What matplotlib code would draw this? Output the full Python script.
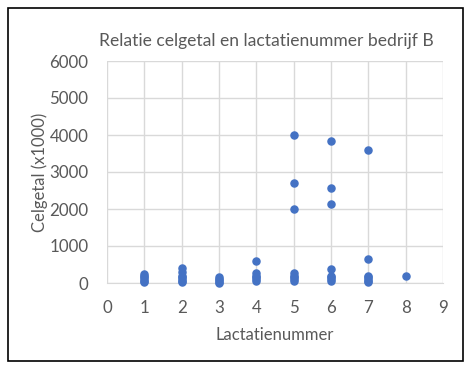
import matplotlib.pyplot as plt
from matplotlib.patches import Rectangle

# lactation number per cow and cell count (x1000)
lactatie = [1, 1, 1, 1, 1, 1,
            2, 2, 2, 2, 2, 2, 2,
            3, 3, 3, 3, 3,
            4, 4, 4, 4, 4, 4,
            5, 5, 5, 5, 5, 5, 5, 5,
            6, 6, 6, 6, 6, 6, 6, 6,
            7, 7, 7, 7, 7, 7, 7,
            8]
celgetal = [250, 200, 150, 100, 50, 20,
            400, 300, 200, 150, 100, 50, 20,
            170, 120, 80, 40, 10,
            600, 260, 200, 150, 100, 50,
            4000, 2700, 2000, 280, 200, 150, 100, 50,
            3850, 2560, 2130, 375, 200, 150, 100, 50,
            3600, 650, 200, 150, 100, 50, 20,
            180]

x_ticks = list(range(0, 10))
y_ticks = [0, 1000, 2000, 3000, 4000, 5000, 6000]

plt.rcParams['font.family'] = ['Lato', 'DejaVu Sans']
txt = '#595959'

fig = plt.figure(figsize=(4.67, 3.70), dpi=100)
fig.patches.append(Rectangle((8 / 467, 9 / 370), 455 / 467, 353 / 370,
                             transform=fig.transFigure, fill=False,
                             edgecolor='black', linewidth=1.2))

ax = fig.add_axes([107 / 467, 87 / 370, 336 / 467, 222 / 370])
ax.scatter(lactatie, celgetal, s=26, color='#4472C4', zorder=3, clip_on=False)

ax.set_xlim(0, 9)
ax.set_ylim(0, 6000)
ax.set_xticks(x_ticks)
ax.set_yticks(y_ticks)
ax.grid(True, color='#D9D9D9', linewidth=1)
ax.set_axisbelow(True)
for s in ['top', 'right', 'left']:
    ax.spines[s].set_visible(False)
ax.spines['bottom'].set_color('#D9D9D9')
ax.tick_params(length=0, labelsize=12.2, colors=txt, pad=12)
ax.tick_params(axis='y', pad=13.5)

ax.set_title('Relatie celgetal en lactatienummer bedrijf B', fontsize=12.6,
             color=txt, pad=11, x=0.473)
ax.set_xlabel('Lactatienummer', fontsize=12, color=txt, labelpad=8)
ax.set_ylabel('Celgetal (x1000)', fontsize=12, color=txt, labelpad=1)

fig.savefig('out.png', dpi=100)
